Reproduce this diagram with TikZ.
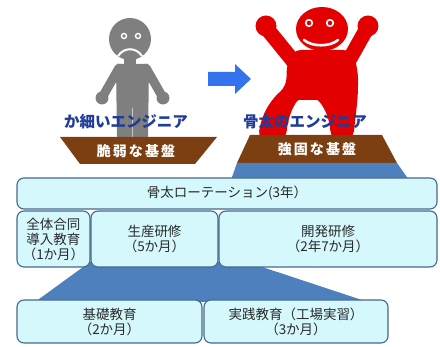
\documentclass[tikz,border=0pt]{standalone}
\usepackage{fontspec}
\newfontfamily\jpfont{Noto Sans CJK JP}
\newfontfamily\jpwide{Noto Sans CJK JP}[LetterSpace=15]
\definecolor{boxfill}{HTML}{D4F8FC}
\definecolor{boxline}{HTML}{46698A}
\definecolor{layerblue}{HTML}{4F80BE}
\definecolor{soil}{HTML}{7B3F12}
\definecolor{namecol}{HTML}{1F3C99}
\definecolor{arrowblue}{HTML}{3572EE}
\definecolor{weakgray}{HTML}{7F7F7F}
\definecolor{strongred}{HTML}{E20000}
\definecolor{boxtext}{HTML}{2A2A2A}
\tikzset{
  course/.style={draw=boxline,fill=boxfill,line width=1.1pt,rounded corners=7pt,
                 align=center,text=boxtext,inner sep=2pt,
                 font=\jpfont\fontsize{13.5}{15}\selectfont},
  engname/.style={text=namecol,font=\jpfont\bfseries\fontsize{15.5}{17}\selectfont},
  basetext/.style={text=white,font=\jpwide\bfseries\fontsize{14}{16}\selectfont},
  soilfill/.style={fill=soil},
  layer/.style={fill=layerblue}
}

\begin{document}
\begin{tikzpicture}[x=1pt,y=-1pt]
  \useasboundingbox (0,0) rectangle (440,347);

  % thin engineer
  \begin{scope}[weakgray]
    \draw[line width=9pt,line cap=round] (119,68) -- (103,96) (146,68) -- (162,96);
    \fill (102,98) circle (6.5) (163,98) circle (6.5);
    \fill[rounded corners=4pt] (116,64) -- (149,64) -- (148,140) -- (117,140) -- cycle;
    \fill (124,52) rectangle (136,66);
    \fill (130,39) circle (21);
    \draw[gray!45,line width=1pt] (132,108) -- (132,140);
  \end{scope}
  \draw[white,line width=1.4pt] (124,36) circle (2.5) (138,36) circle (2.5);
  \draw[white,line width=2pt] (118,56) .. controls (124,47) and (136,47) .. (142,56);

  % strong engineer
  \begin{scope}[strongred]
    \draw[line width=15pt,line cap=round] (268,30) -- (294,62) (366,30) -- (348,62);
    \fill (266,26) circle (10.5) (368,26) circle (10.5);
    \fill[rounded corners=9pt] (292,50) -- (352,50) -- (358,70) -- (358,95) -- (353,140) -- (331,140)
      .. controls (329,112) and (319,100) .. (308,100)
      .. controls (296,100) and (288,115) .. (286,140) -- (258,140)
      .. controls (262,110) and (275,96) .. (287,86) -- (286,68) -- cycle;
    \fill (322,29) ellipse (26 and 22);
  \end{scope}
  \draw[white,line width=1.6pt] (309,23) circle (3.3) (330,23) circle (3.3);
  \draw[white,line width=2.6pt,line cap=round] (304,40) .. controls (312,47) and (330,47) .. (338,40);

  % block arrow between the two
  \fill[arrowblue] (208,72) -- (235,72) -- (235,64) -- (251,79) -- (235,94) -- (235,86) -- (208,86) -- cycle;

  \node[engname] (thinname) at (126,122) {か細いエンジニア};
  \node[engname] (strongname) at (305,122) {骨太のエンジニア};

  % foundations
  \fill[soilfill] (60,137) -- (217,137) -- (195,164) -- (80,164) -- cycle;
  \fill[soilfill] (250,135) -- (382,135) -- (397,163) -- (237,163) -- cycle;
  \fill[layer] (237,163) -- (397,163) -- (409,180) -- (231,180) -- cycle;
  \fill[layer] (90,262) -- (247,262) -- (368,302) -- (35,302) -- cycle;
  \node[basetext] (weakbase) at (136,151) {脆弱な基盤};
  \node[basetext] (strongbase) at (317,149) {強固な基盤};

  % rotation plan
  \node[course,minimum width=420pt,minimum height=31pt] (rot) at (227,193.5)
    {骨太ローテーション(3年）};
  \node[course,minimum width=73pt,minimum height=56pt] (intro) at (53.5,239)
    {全体合同\\導入教育\\（1か月）};
  \node[course,minimum width=127pt,minimum height=56pt] (prod) at (154.5,239)
    {生産研修\\（5か月）};
  \node[course,minimum width=218pt,minimum height=56pt] (dev) at (328,239)
    {開発研修\\（2年7か月）};
  \node[course,minimum width=185pt,minimum height=43pt] (basic) at (109.5,321.5)
    {基礎教育\\（2か月）};
  \node[course,minimum width=184pt,minimum height=43pt] (practice) at (296,321.5)
    {実践教育（工場実習）\\（3か月）};
\end{tikzpicture}
\end{document}
